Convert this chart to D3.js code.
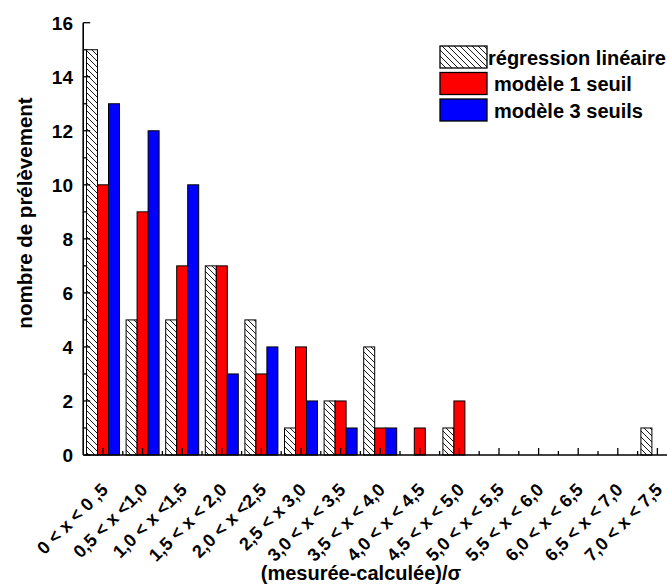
<!DOCTYPE html>
<html><head><meta charset="utf-8">
<script src="https://cdn.jsdelivr.net/npm/d3@7"></script>
<style>
body{margin:0;background:#fff;}
svg{display:block;font-family:"Liberation Sans",Arial,sans-serif;font-weight:bold;}
</style></head>
<body>
<svg id="chart" width="667" height="588"></svg>
<script>
const categories = ["0 < x < 0 ,5","0,5 < x <1,0","1,0 < x <1,5","1,5 < x < 2,0","2,0 < x <2,5","2,5 < x 3,0","3,0 < x < 3,5","3,5 < x < 4,0","4,0 < x < 4,5","4,5 < x < 5,0","5,0 < x < 5,5","5,5 < x < 6,0","6,0 < x < 6,5","6,5 < x < 7,0","7,0 < x < 7,5"];
const regression = [15,5,5,7,5,1,2,4,0,1,0,0,0,0,1];
const modele1 = [10,9,7,7,3,4,2,1,1,2,0,0,0,0,0];
const modele3 = [13,12,10,3,4,2,1,1,0,0,0,0,0,0,0];
const seriesNames = ["régression linéaire","modèle 1 seuil","modèle 3 seuils"];
const yTicks = [0,2,4,6,8,10,12,14,16];
const yMinorTicks = [1,3,5,7,9,11,13,15];

const svg = d3.select("#chart");
const defs = svg.append("defs");
const pat = defs.append("pattern").attr("id","hatch").attr("patternUnits","userSpaceOnUse")
  .attr("width",6).attr("height",6);
pat.append("rect").attr("width",6).attr("height",6).attr("fill","#fff");
pat.append("path").attr("d","M-1,-1 L7,7 M-1,5 L1,7 M5,-1 L7,1").attr("stroke","#000").attr("stroke-width",0.9);

const x0 = 83.2, step = 39.6;
const x = d3.scaleBand().domain(categories).range([x0, x0 + step*categories.length]).padding(0);
const y = d3.scaleLinear().domain([0,16]).range([455,22.7]);
const barW = 11;
const series = [
  {name:seriesNames[0], vals:regression, fill:"url(#hatch)", off:-1.5},
  {name:seriesNames[1], vals:modele1, fill:"#ff0000", off:-0.5},
  {name:seriesNames[2], vals:modele3, fill:"#0000ff", off:0.5}
];

series.forEach(s=>{
  svg.append("g").selectAll("rect").data(categories.map((c,i)=>({c,v:s.vals[i]})).filter(d=>d.v>0))
    .join("rect")
    .attr("x",d=>x(d.c)+x.bandwidth()/2 + s.off*barW)
    .attr("y",d=>y(d.v))
    .attr("width",barW)
    .attr("height",d=>y(0)-y(d.v))
    .attr("fill",s.fill).attr("stroke","#000").attr("stroke-width",1);
});

// axes
const ax = svg.append("g").attr("stroke","#000");
ax.append("line").attr("x1",x0).attr("x2",667).attr("y1",y(0)).attr("y2",y(0)).attr("stroke-width",1.6);
ax.append("line").attr("x1",x0).attr("x2",x0).attr("y1",y(0)).attr("y2",y(16)).attr("stroke-width",1.6);
yTicks.forEach(t=>ax.append("line").attr("x1",x0).attr("x2",x0+7).attr("y1",y(t)).attr("y2",y(t)).attr("stroke-width",1.3));
yMinorTicks.forEach(t=>ax.append("line").attr("x1",x0).attr("x2",x0+4).attr("y1",y(t)).attr("y2",y(t)).attr("stroke-width",1.3));
categories.forEach((c,i)=>{
  const cx = x(c)+x.bandwidth()/2;
  ax.append("line").attr("x1",cx).attr("x2",cx).attr("y1",y(0)).attr("y2",y(0)-7).attr("stroke-width",1.3);
  const bx = x(c)+x.bandwidth();
  ax.append("line").attr("x1",bx).attr("x2",bx).attr("y1",y(0)).attr("y2",y(0)-4).attr("stroke-width",1.3);
});

svg.append("g").selectAll("text").data(yTicks).join("text")
  .attr("x",73).attr("y",d=>y(d)).attr("dy","0.36em").attr("text-anchor","end")
  .attr("font-size",19).text(d=>d);

svg.append("g").selectAll("text").data(categories).join("text")
  .attr("transform",d=>`translate(${x(d)+x.bandwidth()/2+6},491) rotate(-45)`)
  .attr("text-anchor","end").attr("font-size",18).text(d=>d);

svg.append("text").attr("x",361).attr("y",580).attr("text-anchor","middle").attr("font-size",20)
  .text("(mesurée-calculée)/σ");
svg.append("text").attr("transform","translate(32,213) rotate(-90)").attr("text-anchor","middle")
  .attr("font-size",20.5).text("nombre de prélèvement");

// legend
const lg = svg.append("g");
const ly = [46,72.5,99];
series.forEach((s,i)=>{
  lg.append("rect").attr("x",440).attr("y",ly[i]).attr("width",47).attr("height",22)
    .attr("fill",s.fill).attr("stroke","#000").attr("stroke-width",1.3);
  lg.append("text").attr("x",i===0?488:494).attr("y",ly[i]+18.5).attr("font-size",20).text(s.name);
});
</script>
</body></html>
